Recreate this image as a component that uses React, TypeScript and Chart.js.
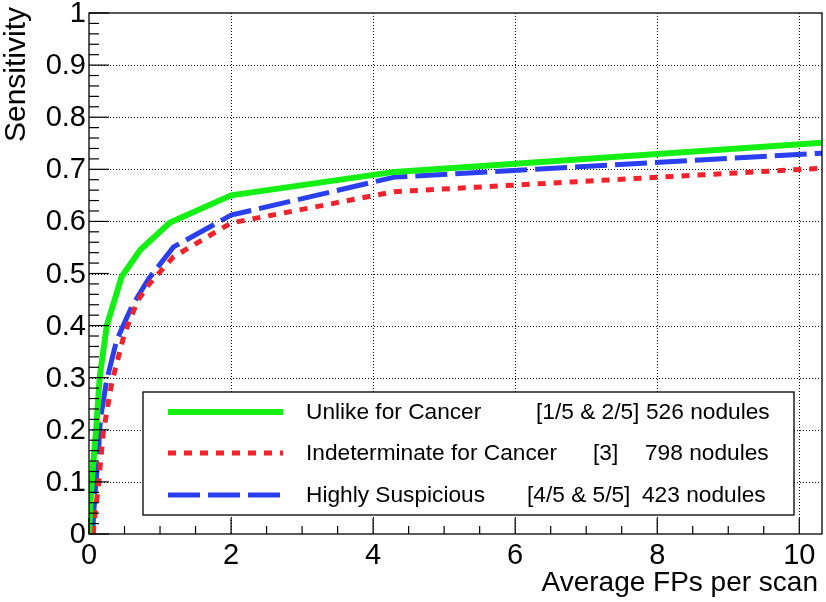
import React, { useEffect, useRef } from "react";
import { Chart, registerables } from "chart.js";

Chart.register(...registerables);

// ---- data ----
const unlikeX = [0.0, 0.02, 0.05, 0.1, 0.15, 0.25, 0.46, 0.72, 1.14, 2.0, 4.3, 10.32];
const unlikeY = [0.0, 0.06, 0.12, 0.2, 0.3, 0.4, 0.494, 0.545, 0.598, 0.65, 0.695, 0.751];

const indetX = [0.06, 0.085, 0.13, 0.2, 0.32, 0.5, 0.69, 0.85, 1.19, 2.0, 4.3, 10.32];
const indetY = [0.0, 0.04, 0.09, 0.194, 0.29, 0.385, 0.449, 0.48, 0.532, 0.597, 0.657, 0.702];

const suspX = [0.05, 0.085, 0.13, 0.16, 0.25, 0.39, 0.6, 0.84, 1.19, 2.0, 4.3, 10.32];
const suspY = [0.0, 0.08, 0.15, 0.22, 0.296, 0.372, 0.436, 0.49, 0.551, 0.612, 0.685, 0.731];

const seriesNames = ["Unlike for Cancer", "Indeterminate for Cancer", "Highly Suspicious"];
const seriesGroups = ["[1/5 & 2/5]", "[3]", "[4/5 & 5/5]"];
const seriesCounts = ["526 nodules", "798 nodules", "423 nodules"];

const xTickValues = [0, 2, 4, 6, 8, 10];
const xTickLabels = ["0", "2", "4", "6", "8", "10"];
const yTickValues = [0, 0.1, 0.2, 0.3, 0.4, 0.5, 0.6, 0.7, 0.8, 0.9, 1];
const yTickLabels = ["0", "0.1", "0.2", "0.3", "0.4", "0.5", "0.6", "0.7", "0.8", "0.9", "1"];

const xTitle = "Average FPs per scan";
const yTitle = "Sensitivity";

const X_MIN = 0;
const X_MAX = 10.32;
const Y_MIN = 0;
const Y_MAX = 1;

const GREEN = "#14f014";
const RED = "#f0222c";
const BLUE = "#2a3ff0";

const FONT = "'Liberation Sans', Arial, Helvetica, sans-serif";

function pts(xs: number[], ys: number[]) {
  return xs.map((x, i) => ({ x, y: ys[i] }));
}

const rootStylePlugin = {
  id: "rootStyle",
  beforeDatasetsDraw(chart: any) {
    const { ctx, chartArea, scales } = chart;
    const xs = scales.x;
    const ys = scales.y;
    ctx.save();
    ctx.strokeStyle = "#000";
    ctx.lineWidth = 1;
    ctx.setLineDash([1, 2]);
    xTickValues.forEach((v) => {
      if (v <= X_MIN || v >= X_MAX) return;
      const px = Math.round(xs.getPixelForValue(v)) + 0.5;
      ctx.beginPath();
      ctx.moveTo(px, chartArea.top);
      ctx.lineTo(px, chartArea.bottom);
      ctx.stroke();
    });
    yTickValues.forEach((v) => {
      if (v <= Y_MIN || v >= Y_MAX) return;
      const py = Math.round(ys.getPixelForValue(v)) + 0.5;
      ctx.beginPath();
      ctx.moveTo(chartArea.left, py);
      ctx.lineTo(chartArea.right, py);
      ctx.stroke();
    });
    ctx.restore();
  },
  afterDatasetsDraw(chart: any) {
    const { ctx, chartArea, scales } = chart;
    const xs = scales.x;
    const ys = scales.y;
    const { left, right, top, bottom } = chartArea;
    ctx.save();
    ctx.setLineDash([]);
    ctx.strokeStyle = "#000";
    ctx.lineWidth = 1.3;
    // frame
    ctx.strokeRect(left, top, right - left, bottom - top);

    // x ticks (inward)
    ctx.lineWidth = 1.2;
    const xMinorStep = 0.5;
    for (let i = 0; X_MIN + i * xMinorStep <= X_MAX + 1e-9; i++) {
      const v = X_MIN + i * xMinorStep;
      const major = Math.abs(v / 2 - Math.round(v / 2)) < 1e-6;
      const px = xs.getPixelForValue(v);
      ctx.beginPath();
      ctx.moveTo(px, bottom);
      ctx.lineTo(px, bottom - (major ? 16 : 8));
      ctx.stroke();
    }
    // y ticks (inward)
    const yMinorStep = 0.02;
    for (let i = 0; i <= 50; i++) {
      const v = Y_MIN + i * yMinorStep;
      const major = i % 5 === 0;
      const py = ys.getPixelForValue(v);
      ctx.beginPath();
      ctx.moveTo(left, py);
      ctx.lineTo(left + (major ? 20 : 10), py);
      ctx.stroke();
    }

    // tick labels
    ctx.fillStyle = "#000";
    ctx.font = `29px ${FONT}`;
    ctx.textAlign = "center";
    ctx.textBaseline = "top";
    xTickValues.forEach((v, i) => {
      ctx.fillText(xTickLabels[i], xs.getPixelForValue(v), bottom + 7);
    });
    ctx.textAlign = "right";
    ctx.textBaseline = "middle";
    yTickValues.forEach((v, i) => {
      ctx.fillText(yTickLabels[i], left - 3, ys.getPixelForValue(v) + 1);
    });

    // axis titles
    ctx.font = `28px ${FONT}`;
    ctx.textAlign = "right";
    ctx.textBaseline = "alphabetic";
    ctx.fillText(xTitle, right - 4, 591);
    ctx.save();
    ctx.font = `30px ${FONT}`;
    ctx.translate(25, 7);
    ctx.rotate(-Math.PI / 2);
    ctx.textAlign = "right";
    ctx.textBaseline = "alphabetic";
    ctx.fillText(yTitle, 0, 0);
    ctx.restore();

    // legend
    const lx = 143, ly = 392, lw = 651, lh = 123;
    ctx.fillStyle = "#fff";
    ctx.fillRect(lx, ly, lw, lh);
    ctx.strokeStyle = "#000";
    ctx.lineWidth = 1.3;
    ctx.strokeRect(lx, ly, lw, lh);

    const rowsY = [412, 453, 495];
    const ds = chart.data.datasets;
    const groupX = [536, 593, 527];
    const countX = [646, 645, 642];
    rowsY.forEach((ry, i) => {
      const d = ds[i];
      ctx.save();
      ctx.strokeStyle = d.borderColor;
      ctx.lineWidth = d.borderWidth;
      ctx.lineCap = "butt";
      ctx.setLineDash(d.borderDash || []);
      ctx.beginPath();
      ctx.moveTo(168, ry);
      ctx.lineTo(283, ry);
      ctx.stroke();
      ctx.restore();
      ctx.fillStyle = "#000";
      ctx.font = `22.7px ${FONT}`;
      ctx.textAlign = "left";
      ctx.textBaseline = "middle";
      ctx.fillText(seriesNames[i], 306, ry + 1);
      ctx.fillText(seriesGroups[i], groupX[i], ry + 1);
      ctx.fillText(seriesCounts[i], countX[i], ry + 1);
    });
    ctx.restore();
  },
};

export default function App() {
  const canvasRef = useRef<HTMLCanvasElement | null>(null);

  useEffect(() => {
    const canvas = canvasRef.current;
    if (!canvas) return;
    const chart = new Chart(canvas, {
      type: "line",
      data: {
        datasets: [
          {
            label: seriesNames[0],
            data: pts(unlikeX, unlikeY),
            borderColor: GREEN,
            borderWidth: 6,
            pointRadius: 0,
            fill: false,
            tension: 0,
          },
          {
            label: seriesNames[1],
            data: pts(indetX, indetY),
            borderColor: RED,
            borderWidth: 5,
            borderDash: [8, 8],
            pointRadius: 0,
            fill: false,
            tension: 0,
          },
          {
            label: seriesNames[2],
            data: pts(suspX, suspY),
            borderColor: BLUE,
            borderWidth: 5,
            borderDash: [32, 8],
            pointRadius: 0,
            fill: false,
            tension: 0,
          },
        ],
      },
      options: {
        responsive: false,
        animation: false,
        devicePixelRatio: 1,
        layout: { padding: { left: 89, right: 4, top: 13, bottom: 68 } },
        plugins: { legend: { display: false }, tooltip: { enabled: false } },
        scales: {
          x: { type: "linear", min: X_MIN, max: X_MAX, display: false },
          y: { type: "linear", min: Y_MIN, max: Y_MAX, display: false },
        },
      },
      plugins: [rootStylePlugin],
    } as any);
    return () => chart.destroy();
  }, []);

  return (
    <div style={{ position: "absolute", left: 0, top: 0, width: 826, height: 602, background: "#fff" }}>
      <canvas ref={canvasRef} width={826} height={602} style={{ display: "block" }} />
    </div>
  );
}
